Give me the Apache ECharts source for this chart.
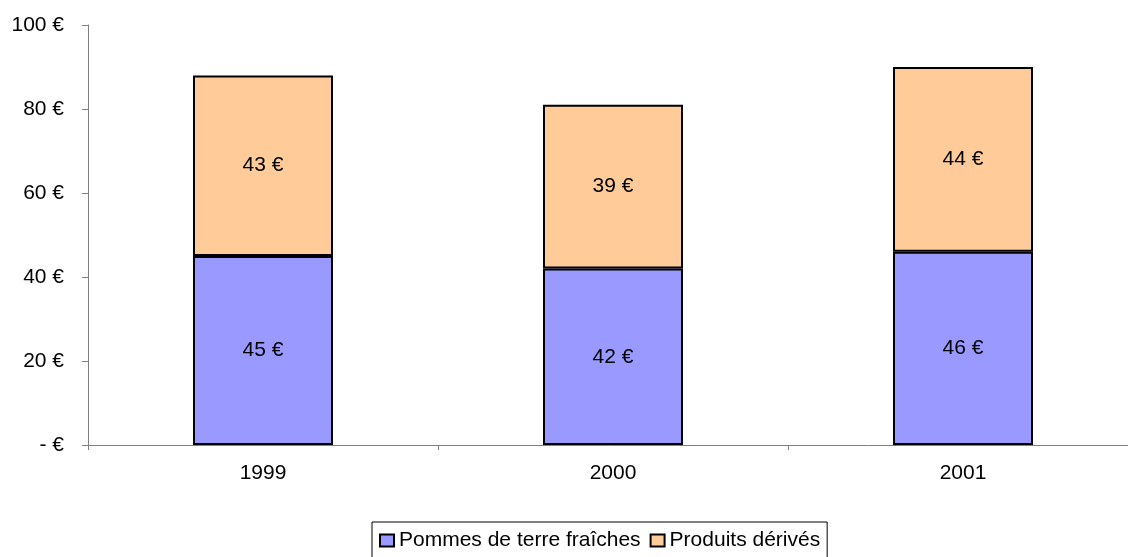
<!DOCTYPE html>
<html>
<head>
<meta charset="utf-8">
<script src="https://cdn.jsdelivr.net/npm/echarts@6/dist/echarts.min.js"></script>
<style>
  html, body { margin: 0; padding: 0; background: #fff; }
  #chart { width: 1128px; height: 557px; }
</style>
</head>
<body>
<div id="chart"></div>
<script>
  // données
  var years = ['1999', '2000', '2001']
  var pommesFraiches = [45, 42, 46]
  var produitsDerives = [43, 39, 44]
  var seriesNames = ['Pommes de terre fraîches', 'Produits dérivés']

  var font = 'Liberation Sans, Arial, sans-serif'
  var myChart = echarts.init(document.getElementById('chart'))
  myChart.setOption({
    animation: false,
    textStyle: { fontFamily: font },
    grid: {
      left: 88,
      width: 1050,
      top: 25,
      height: 420,
      outerBoundsMode: 'none'
    },
    legend: {
      data: seriesNames,
      left: 372,
      top: 522,
      icon: 'rect',
      itemWidth: 14,
      itemHeight: 12,
      itemGap: 9,
      padding: [8, 7, 20, 7],
      borderColor: '#000',
      borderWidth: 1,
      textStyle: { fontSize: 21, color: '#000', fontFamily: font }
    },
    xAxis: {
      type: 'category',
      data: years,
      axisLine: { lineStyle: { color: '#808080', width: 1 } },
      axisTick: { show: true, length: 5, lineStyle: { color: '#808080' } },
      axisLabel: { color: '#000', fontSize: 21, margin: 18, fontFamily: font }
    },
    yAxis: {
      type: 'value',
      min: 0,
      max: 100,
      interval: 20,
      axisLine: { show: true, lineStyle: { color: '#808080', width: 1 } },
      axisTick: { show: true, length: 6, lineStyle: { color: '#808080' } },
      splitLine: { show: false },
      axisLabel: {
        color: '#000',
        fontSize: 21,
        margin: 24,
        fontFamily: font,
        formatter: function (v) { return v === 0 ? '- €' : v + ' €' }
      }
    },
    series: [
      {
        name: seriesNames[0],
        type: 'bar',
        stack: 'total',
        barWidth: '40%',
        data: pommesFraiches,
        itemStyle: { color: '#9999FF', borderColor: '#000', borderWidth: 2 },
        label: { show: true, position: 'inside', color: '#000', fontSize: 21, fontFamily: font, formatter: '{c} €' }
      },
      {
        name: seriesNames[1],
        type: 'bar',
        stack: 'total',
        barWidth: '40%',
        data: produitsDerives,
        itemStyle: { color: '#FFCC99', borderColor: '#000', borderWidth: 2 },
        label: { show: true, position: 'inside', color: '#000', fontSize: 21, fontFamily: font, formatter: '{c} €' }
      }
    ]
  })
</script>
</body>
</html>
